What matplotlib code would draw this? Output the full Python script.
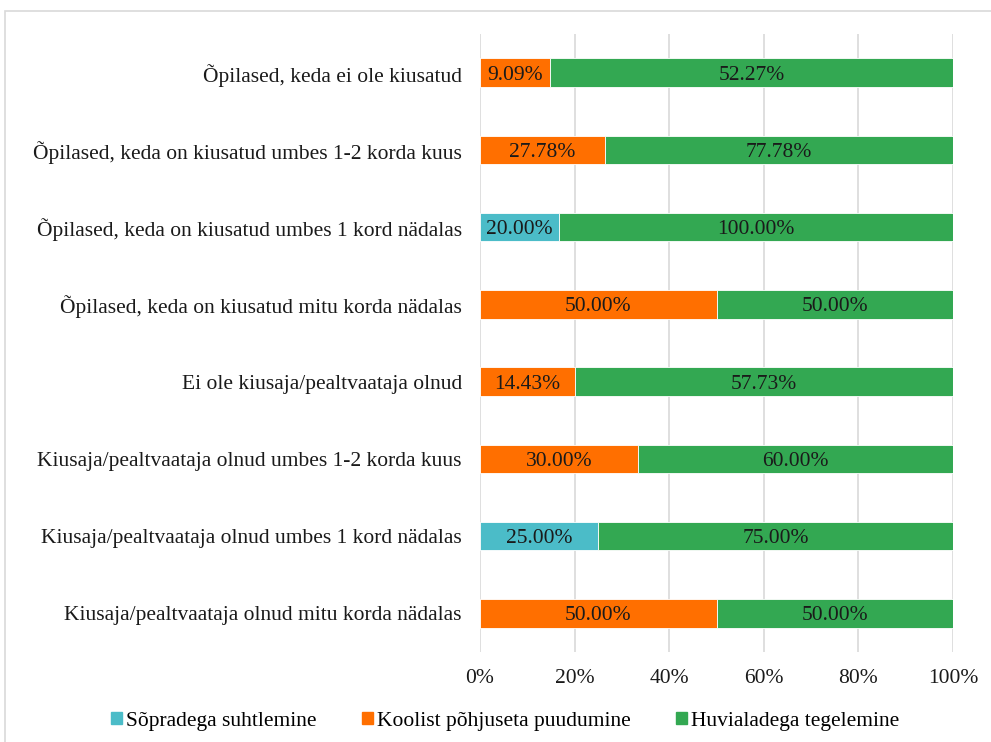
import matplotlib.pyplot as plt
import matplotlib.patches as mpatches
import numpy as np

plt.rcParams['font.family'] = ['Liberation Serif', 'DejaVu Serif']

# categories, top to bottom
categories = [
    'Õpilased, keda ei ole kiusatud',
    'Õpilased, keda on kiusatud umbes 1-2 korda kuus',
    'Õpilased, keda on kiusatud umbes 1 kord nädalas',
    'Õpilased, keda on kiusatud mitu korda nädalas',
    'Ei ole kiusaja/pealtvaataja olnud',
    'Kiusaja/pealtvaataja olnud umbes 1-2 korda kuus',
    'Kiusaja/pealtvaataja olnud umbes 1 kord nädalas',
    'Kiusaja/pealtvaataja olnud mitu korda nädalas',
]

series_names = ['Sõpradega suhtlemine', 'Koolist põhjuseta puudumine', 'Huvialadega tegelemine']
sopradega = [0, 0, 20.00, 0, 0, 0, 25.00, 0]
koolist = [9.09, 27.78, 0, 50.00, 14.43, 30.00, 0, 50.00]
huviala = [52.27, 77.78, 100.00, 50.00, 57.73, 60.00, 75.00, 50.00]

colors = ['#4BBCC8', '#FF6F00', '#33A852']
fs = 15.5

data = np.array([sopradega, koolist, huviala])
totals = data.sum(axis=0)
shares = data / totals * 100  # 100% stacked

fig = plt.figure(figsize=(9.91, 7.42), dpi=100)
ax = fig.add_axes([0.4844, 0.1213, 0.4773, 0.8329])

y = np.arange(len(categories))
left = np.zeros(len(categories))
for i in range(3):
    ax.barh(y, shares[i], left=left, height=0.37, color=colors[i],
            edgecolor='white', linewidth=0.6, zorder=3)
    for j in range(len(categories)):
        if data[i, j] > 0:
            ax.text(left[j] + shares[i, j] / 2, y[j], f'{data[i, j]:.2f}%',
                    ha='center', va='center_baseline', fontsize=fs,
                    color='#1a1a1a', zorder=4)
    left += shares[i]

ax.set_ylim(len(categories) - 0.5, -0.5)
ax.set_xlim(0, 100)
ax.set_yticks(y)
ax.set_yticklabels(categories, fontsize=fs)
ax.set_xticks([0, 20, 40, 60, 80, 100])
ax.set_xticklabels(['0%', '20%', '40%', '60%', '80%', '100%'], fontsize=fs)
ax.tick_params(axis='both', length=0, colors='#1a1a1a')
ax.tick_params(axis='y', pad=13)
ax.tick_params(axis='x', pad=12)
ax.grid(True, axis='x', color='#d9d9d9', linewidth=1.2, zorder=0)
for sp in ax.spines.values():
    sp.set_visible(False)

handles = [mpatches.Patch(color=c, label=n) for c, n in zip(colors, series_names)]
fig.legend(handles=handles, loc='center', bbox_to_anchor=(0.51, 0.028), ncol=3,
           frameon=False, fontsize=fs, handlelength=0.5, handleheight=0.5,
           handletextpad=0.2, columnspacing=2.1)

# outer frame
fig.patches.append(mpatches.Rectangle((5 / 991, -0.01), 1.0, 1 - 11 / 742 + 0.01,
                                      transform=fig.transFigure, fill=False,
                                      edgecolor='#d9d9d9', linewidth=1.2))

fig.savefig('out.png', dpi=100)
plt.close(fig)
